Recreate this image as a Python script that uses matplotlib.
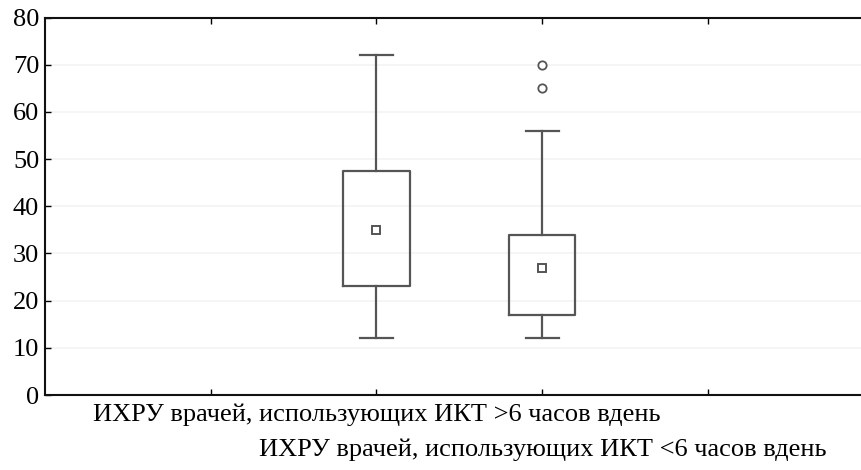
import matplotlib
matplotlib.use("Agg")
import matplotlib.pyplot as plt

labels = ["ИХРУ врачей, использующих ИКТ >6 часов вдень",
          "ИХРУ врачей, использующих ИКТ <6 часов вдень"]
positions = [2, 3]
q1 = [23, 17]
q3 = [47.5, 34]
medians = [35, 27]
whislo = [12, 12]
whishi = [72, 56]
outliers = [[], [70, 65]]
yticks = [0, 10, 20, 30, 40, 50, 60, 70, 80]
xticks = [1, 2, 3, 4]

plt.rcParams['font.family'] = ['Liberation Serif', 'DejaVu Serif']

fig = plt.figure(figsize=(8.62, 4.70), dpi=100)
W, H = 862, 470
left, right = 44.7, 874
top, bottom = 17.5, 395
ax = fig.add_axes([left / W, 1 - bottom / H, (right - left) / W, (bottom - top) / H])

stats = []
for i in range(len(positions)):
    stats.append(dict(med=medians[i], q1=q1[i], q3=q3[i], whislo=whislo[i],
                      whishi=whishi[i], fliers=outliers[i], label=labels[i]))

lc = '#555555'
ax.bxp(stats, positions=positions, widths=0.4, showfliers=True,
       boxprops=dict(color=lc, linewidth=1.6),
       whiskerprops=dict(color=lc, linewidth=1.6),
       capprops=dict(color=lc, linewidth=1.6),
       capwidths=0.2,
       medianprops=dict(linestyle='none'),
       flierprops=dict(marker='o', markerfacecolor='white', markeredgecolor=lc,
                       markersize=6, markeredgewidth=1.3))
ax.plot(positions, medians, linestyle='none', marker='s', markersize=6,
        markerfacecolor='white', markeredgecolor=lc, markeredgewidth=1.4, zorder=5)

ax.set_xlim(0, 5)
ax.set_ylim(0, 80)
ax.set_yticks(yticks)
ax.set_yticklabels([str(v) for v in yticks], fontsize=19)
ax.set_xticks(xticks)
ax.set_xticklabels([])
ax.grid(axis='y', color='#f3f3f3', linewidth=1.2)
ax.set_axisbelow(True)
ax.tick_params(axis='both', direction='in', length=4, width=1, top=True, right=False, pad=4)
for s in ['left', 'top', 'bottom']:
    ax.spines[s].set_linewidth(1.5)
    ax.spines[s].set_color('#111111')
ax.spines['right'].set_visible(False)

ax.text(positions[0], -4.1, labels[0], ha='center', va='center', fontsize=19)
ax.text(positions[1], -11.7, labels[1], ha='center', va='center', fontsize=19)

fig.savefig("out.png", dpi=100)
